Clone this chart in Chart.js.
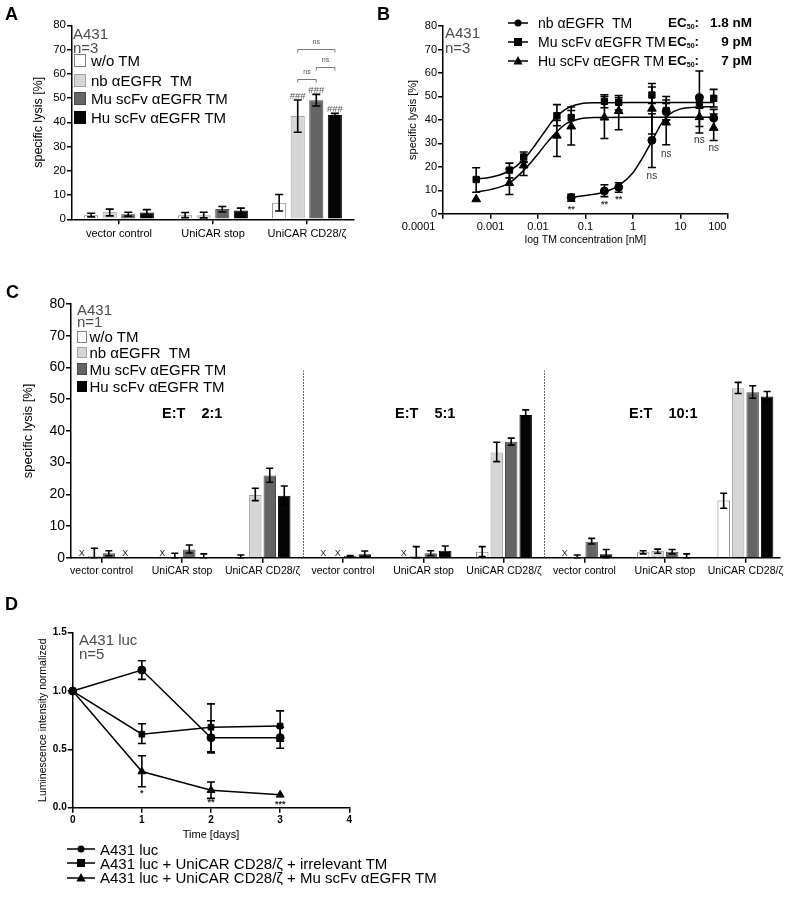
<!DOCTYPE html>
<html>
<head>
<meta charset="utf-8">
<script src="https://cdn.jsdelivr.net/npm/chart.js@4.4.1/dist/chart.umd.min.js"></script>
<style>
body { margin: 0; background: #fff; font-family: "Liberation Sans", Arial, sans-serif; }
#page { position: relative; width: 786px; height: 899px; overflow: hidden; background: #fff; }
canvas { position: absolute; }
.t { position: absolute; line-height: 1; white-space: pre; color: #000; }
.lab { font-size: 18px; font-weight: bold; }
.grey { color: #4d4d4d; font-size: 15px; }
.et { font-size: 14.5px; font-weight: bold; }
.sw { position: absolute; box-sizing: border-box; border: 1px solid; }
sub { font-size: 7px; vertical-align: baseline; position: relative; top: 2px; }
svg { position: absolute; overflow: visible; }
</style>
</head>
<body>
<div id="page">
  <canvas id="cA" width="375" height="250" style="left:0;top:0"></canvas>
  <canvas id="cB" width="411" height="255" style="left:375px;top:0"></canvas>
  <canvas id="cC" width="786" height="320" style="left:0;top:270px"></canvas>
  <canvas id="cD" width="400" height="255" style="left:0;top:590px"></canvas>

  <div class="t lab" style="left:5px;top:4.5px">A</div>
  <div class="t grey" style="left:73px;top:25.5px">A431</div>
  <div class="t grey" style="left:73px;top:39.5px">n=3</div>

  <div class="t lab" style="left:377px;top:4.5px">B</div>
  <div class="t grey" style="left:445px;top:24.5px">A431</div>
  <div class="t grey" style="left:445px;top:40px">n=3</div>

  <div class="t lab" style="left:6px;top:283px">C</div>
  <div class="t grey" style="left:77px;top:302px">A431</div>
  <div class="t grey" style="left:77px;top:314px">n=1</div>
  <div class="t et" style="left:162px;top:405.5px">E:T    2:1</div>
  <div class="t et" style="left:395px;top:405.5px">E:T    5:1</div>
  <div class="t et" style="left:629px;top:405.5px">E:T    10:1</div>

  <div class="t lab" style="left:5px;top:595px">D</div>
  <div class="t grey" style="left:79px;top:631.5px">A431 luc</div>
  <div class="t grey" style="left:79px;top:645.5px">n=5</div>
</div>

<script>
// series names shared by A and C
const seriesNames = ['w/o TM', 'nb αEGFR  TM', 'Mu scFv αEGFR TM', 'Hu scFv αEGFR TM'];

// ---- panel A
const aCats = ['vector control', 'UniCAR stop', 'UniCAR CD28/ζ'];
const aWo = [1.7, 1.7, 6.8];
const aNb = [3.1, 1.7, 42.6];
const aMu = [2.1, 4.2, 49.1];
const aHu = [2.8, 3.6, 43.0];
const aLo = [[1.0, 0.7, 3.4], [1.4, 0.6, 35.9], [1.3, 3.0, 46.7], [2.0, 2.8, 42.6]];
const aHi = [[2.5, 2.8, 10.2], [4.2, 2.9, 49.2], [2.9, 5.3, 51.5], [4.0, 4.6, 43.7]];
const aHashY = [null, 50.6, 53.3, 45.5];            // "###" over CD28/ζ group
const aBrackets = [[1, 3, 70.1], [2, 3, 62.9], [1, 2, 57.9]]; // ns comparisons

// ---- panel B
const bTickVals = [0.0001, 0.001, 0.01, 0.1, 1, 10, 100];
const bTickLabels = ['0.0001', '0.001', '0.01', '0.1', '1', '10', '100'];
const bX = [0.0005, 0.0025, 0.005, 0.025, 0.05, 0.25, 0.5, 2.5, 5, 25, 50];
const bMu = [14.6, 18.6, 24.2, 41.8, 41.0, 47.9, 47.5, 50.6, 44.0, 47.5, 49.2];
const bMuLo = [9.2, 15.3, 21.9, 37.5, 36.5, 45.2, 44.2, 47.0, 40.0, 45.0, 45.5];
const bMuHi = [19.6, 21.6, 26.3, 46.5, 45.5, 50.7, 50.4, 54.0, 50.0, 50.0, 53.0];
const bHu = [6.2, 13.1, 20.6, 33.3, 37.2, 41.0, 43.8, 44.8, 38.9, 41.2, 36.6];
const bHuLo = [null, 8.2, 16.3, 24.4, 29.3, 32.1, 35.8, 34.0, 29.4, 34.4, 31.2];
const bHuHi = [null, 19.2, 22.3, 39.8, 44.0, 50.0, 49.5, 55.5, 48.5, 45.5, 42.5];
const bNbX = [0.05, 0.25, 0.5, 2.5, 5, 25, 50];
const bNb = [6.9, 9.7, 11.3, 31.3, 43.5, 49.5, 40.8];
const bNbLo = [5.4, 7.3, 9.2, 19.7, 40.0, 37.2, 36.0];
const bNbHi = [8.3, 12.4, 13.2, 42.6, 47.0, 60.8, 44.5];
// fitted curves
const muFitX = [0.0005, 0.001, 0.002, 0.0035, 0.005, 0.0075, 0.01, 0.015, 0.02, 0.03, 0.05, 0.08, 0.15, 1, 50];
const muFitY = [14.8, 15.6, 17.4, 20.3, 23.2, 27.5, 31.0, 36.0, 39.5, 43.0, 45.8, 46.9, 47.3, 47.4, 47.4];
const huFitX = [0.0005, 0.001, 0.0025, 0.005, 0.01, 0.015, 0.025, 0.04, 0.07, 0.15, 1, 50];
const huFitY = [9.3, 10.3, 13.2, 18.5, 25.5, 30.0, 35.0, 38.5, 40.3, 41.0, 41.1, 41.1];
const nbFitX = [0.05, 0.1, 0.25, 0.5, 1, 1.5, 2.5, 4, 6, 10, 20, 50];
const nbFitY = [7.0, 7.8, 9.3, 12.0, 17.5, 23.0, 31.0, 38.5, 42.5, 44.7, 45.4, 45.6];
const bLegend = ['nb αEGFR  TM', 'Mu scFv αEGFR TM', 'Hu scFv αEGFR TM'];
const bEC50 = ['1.8 nM', '9 pM', '7 pM'];
const bStarX = [0.05, 0.25, 0.5, 2.5, 5, 25, 50];
const bStarY = [2.0, 3.8, 5.9, 16.2, 25.5, 31.5, 27.9];
const bStarText = ['**', '**', '**', 'ns', 'ns', 'ns', 'ns'];

// ---- panel C
const cCats = ['vector control', 'UniCAR stop', 'UniCAR CD28/ζ',
               'vector control', 'UniCAR stop', 'UniCAR CD28/ζ',
               'vector control', 'UniCAR stop', 'UniCAR CD28/ζ'];
const cWo = [null, null, 0.2, null, null, 1.9, null, 1.7, 18.0];
const cNb = [0.5, 0.2, 19.8, null, 0.5, 33.2, 0.1, 2.1, 53.4];
const cMu = [1.4, 2.6, 25.9, 0.5, 1.4, 36.6, 5.0, 1.9, 52.2];
const cHu = [null, 0.2, 19.5, 1.1, 2.2, 45.0, 1.1, 0.2, 50.8];
const cLo = [
  [null, null, 0, null, null, 0.4, null, 1.2, 15.6],
  [0, 0, 18.0, null, 0, 30.3, 0, 1.4, 51.8],
  [0.6, 1.5, 23.8, 0.3, 0.7, 35.5, 4.3, 1.2, 50.3],
  [null, 0, 16.6, 0.3, 0.8, 44.0, 0, 0, 49.2]
];
const cHi = [
  [null, null, 0.85, null, null, 3.5, null, 2.2, 20.3],
  [3.0, 1.4, 21.9, null, 3.5, 36.4, 0.85, 2.7, 55.3],
  [2.2, 4.0, 28.2, 0.7, 2.2, 37.7, 6.1, 2.6, 54.2],
  [null, 1.2, 22.6, 2.1, 3.7, 46.6, 2.6, 1.2, 52.4]
];
const cSeparators = [3.5, 6.5];

// ---- panel D
const dDays = [0, 1, 2, 3];
const dLuc = [1.0, 1.18, 0.60, 0.60];
const dLucLo = [1.0, 1.10, 0.47, 0.51];
const dLucHi = [1.0, 1.26, 0.745, 0.69];
const dIrr = [1.0, 0.63, 0.69, 0.70];
const dIrrLo = [1.0, 0.55, 0.48, 0.57];
const dIrrHi = [1.0, 0.72, 0.89, 0.83];
const dMu = [1.0, 0.31, 0.15, 0.11];
const dMuLo = [1.0, 0.18, 0.08, 0.11];
const dMuHi = [1.0, 0.445, 0.22, 0.11];
const dStarY = [null, 0.12, 0.045, 0.03];
const dStarText = ['', '*', '**', '***'];
const dLegend = ['A431 luc', 'A431 luc + UniCAR CD28/ζ + irrelevant TM', 'A431 luc + UniCAR CD28/ζ + Mu scFv αEGFR TM'];

// styles
const FONT = '"Liberation Sans", Arial, sans-serif';
const fills = ['#ffffff', '#d6d6d6', '#646464', '#050505'];
const borders = ['#808080', '#a3a3a3', '#4a4a4a', '#000000'];
const bLabelShift = [16, 0, 0, 0, 0, 0, 7]; // end labels sit left of their tick in the original

Chart.defaults.font.family = FONT;
Chart.defaults.color = '#000';
Chart.defaults.animation = false;
Chart.defaults.plugins.legend.display = false;
Chart.defaults.plugins.tooltip.enabled = false;

// error bars, drawn from the datasets' errLo / errHi values
const errorBars = {
  id: 'errorBars',
  beforeDatasetsDraw(chart, args, opts) { if (opts.under) drawErr(chart, opts); },
  afterDatasetsDraw(chart, args, opts) { if (!opts.under) drawErr(chart, opts); }
};
function drawErr(chart, opts) {
  const ctx = chart.ctx, y = chart.scales.y;
  ctx.save();
  ctx.strokeStyle = '#000';
  ctx.lineWidth = opts.width || 1.6;
  chart.data.datasets.forEach((ds, i) => {
    if (!ds.errLo) return;
    chart.getDatasetMeta(i).data.forEach((el, j) => {
      const lo = ds.errLo[j], hi = ds.errHi[j];
      if (lo == null || hi == null || lo === hi) return;
      const x = el.x, y1 = y.getPixelForValue(lo), y2 = y.getPixelForValue(hi), c = opts.cap;
      ctx.beginPath();
      ctx.moveTo(x, y1); ctx.lineTo(x, y2);
      ctx.moveTo(x - c, y1); ctx.lineTo(x + c, y1);
      ctx.moveTo(x - c, y2); ctx.lineTo(x + c, y2);
      ctx.stroke();
    });
  });
  ctx.restore();
}

function yAxis(min, max, step, width, title, titleSize, titlePad, tickSize, extra) {
  return Object.assign({
    min: min, max: max,
    grid: { drawOnChartArea: false, tickLength: 5, color: '#000', lineWidth: 1.5 },
    border: { color: '#000', width: 1.5 },
    ticks: { stepSize: step, padding: 1, font: { size: tickSize }, color: '#000' },
    title: { display: true, text: title, font: { size: titleSize }, color: '#000', padding: { top: titlePad, bottom: 0 } },
    afterFit: s => { s.width = width; }
  }, extra || {});
}

// ---------------- A
const aData = [aWo, aNb, aMu, aHu];
const aNotes = {
  id: 'aNotes',
  afterDatasetsDraw(chart) {
    const ctx = chart.ctx, y = chart.scales.y;
    ctx.save();
    ctx.fillStyle = '#555'; ctx.strokeStyle = '#777'; ctx.lineWidth = 1;
    ctx.textAlign = 'center'; ctx.textBaseline = 'middle';
    ctx.font = '9.5px ' + FONT;
    aHashY.forEach((v, i) => {
      if (v == null) return;
      ctx.fillText('###', chart.getDatasetMeta(i).data[2].x, y.getPixelForValue(v));
    });
    ctx.font = '7px ' + FONT;
    aBrackets.forEach(b => {
      const x1 = chart.getDatasetMeta(b[0]).data[2].x, x2 = chart.getDatasetMeta(b[1]).data[2].x;
      const py = Math.round(y.getPixelForValue(b[2])) + 0.5;
      ctx.beginPath();
      ctx.moveTo(x1, py + 3); ctx.lineTo(x1, py); ctx.lineTo(x2, py); ctx.lineTo(x2, py + 3);
      ctx.stroke();
      ctx.fillText('ns', (x1 + x2) / 2, py - 7);
    });
    ctx.restore();
  }
};
new Chart(document.getElementById('cA'), {
  type: 'bar',
  data: {
    labels: aCats,
    datasets: aData.map((d, i) => ({
      label: seriesNames[i], data: d, errLo: aLo[i], errHi: aHi[i],
      backgroundColor: fills[i], borderColor: borders[i], borderWidth: 1,
      categoryPercentage: 0.79, barPercentage: 0.76
    }))
  },
  options: {
    responsive: false,
    layout: { padding: { top: 25.3, right: 21, left: 0, bottom: 0 } },
    plugins: { errorBars: { cap: 4 } },
    scales: {
      x: {
        offset: true,
        grid: { offset: false, drawOnChartArea: false, tickLength: 5, color: '#000', lineWidth: 1.5 },
        border: { color: '#000', width: 1.5 },
        ticks: { font: { size: 11 }, color: '#000', padding: 3, maxRotation: 0, autoSkip: false },
        afterFit: s => { s.height = 30.7; }
      },
      y: yAxis(0, 80, 10, 72, 'specific lysis [%]', 12.5, 31.5, 11.5)
    }
  },
  plugins: [errorBars, aNotes]
});

// ---------------- B
const bNotes = {
  id: 'bNotes',
  afterDatasetsDraw(chart) {
    const ctx = chart.ctx, x = chart.scales.x, y = chart.scales.y;
    ctx.save();
    ctx.fillStyle = '#333'; ctx.textAlign = 'center'; ctx.textBaseline = 'middle';
    bStarX.forEach((v, i) => {
      ctx.font = (bStarText[i] === 'ns' ? '10px ' : 'bold 9px ') + FONT;
      ctx.fillText(bStarText[i], x.getPixelForValue(v), y.getPixelForValue(bStarY[i]));
    });
    ctx.restore();
  }
};
const pts = (xs, ys) => xs.map((v, i) => ({ x: v, y: ys[i] }));
const bPointStyle = { showLine: false, backgroundColor: '#000', borderColor: '#000', borderWidth: 1, clip: false };
const bCurveStyle = { showLine: true, pointRadius: 0, borderColor: '#000', borderWidth: 1.5, cubicInterpolationMode: 'monotone', fill: false };
new Chart(document.getElementById('cB'), {
  type: 'scatter',
  data: {
    datasets: [
      Object.assign({ label: bLegend[0], data: pts(bNbX, bNb), errLo: bNbLo, errHi: bNbHi, pointStyle: 'circle', pointRadius: 4 }, bPointStyle),
      Object.assign({ label: bLegend[1], data: pts(bX, bMu), errLo: bMuLo, errHi: bMuHi, pointStyle: 'rect', pointRadius: 4.5 }, bPointStyle),
      Object.assign({ label: bLegend[2], data: pts(bX, bHu), errLo: bHuLo, errHi: bHuHi, pointStyle: 'triangle', pointRadius: 5 }, bPointStyle),
      Object.assign({ data: pts(nbFitX, nbFitY) }, bCurveStyle),
      Object.assign({ data: pts(muFitX, muFitY) }, bCurveStyle),
      Object.assign({ data: pts(huFitX, huFitY) }, bCurveStyle)
    ]
  },
  options: {
    responsive: false,
    layout: { padding: { top: 26, right: 58, left: 0, bottom: 0 } },
    plugins: { errorBars: { cap: 4, under: true } },
    scales: {
      x: {
        type: 'logarithmic', min: 0.0001, max: 100,
        grid: { drawOnChartArea: false, tickLength: 5, color: '#000', lineWidth: 1.5 },
        border: { color: '#000', width: 1.5 },
        afterBuildTicks: s => { s.ticks = bTickVals.map(v => ({ value: v })); },
        ticks: {
          callback: (v, i) => bTickLabels[i] + ' '.repeat(bLabelShift[i]),
          font: { size: 11 }, color: '#000', padding: 2, maxRotation: 0, autoSkip: false
        },
        title: { display: true, text: 'log TM concentration [nM]', font: { size: 10.5 }, color: '#000', padding: { top: 0, bottom: 8.7 } },
        afterFit: s => { s.height = 41.2; }
      },
      y: yAxis(0, 80, 10, 68, 'specific lysis [%]', 11, 31.5, 11)
    }
  },
  plugins: [errorBars, bNotes]
});

// ---------------- C
const cData = [cWo, cNb, cMu, cHu];
const cXpos = cCats.map((c, i) => i + 1);
const cNotes = {
  id: 'cNotes',
  afterDatasetsDraw(chart) {
    const ctx = chart.ctx, x = chart.scales.x, y = chart.scales.y;
    ctx.save();
    ctx.strokeStyle = '#333'; ctx.lineWidth = 1; ctx.setLineDash([1.5, 1.5]);
    cSeparators.forEach(v => {
      const px = Math.round(x.getPixelForValue(v)) + 0.5;
      ctx.beginPath();
      ctx.moveTo(px, y.getPixelForValue(0)); ctx.lineTo(px, y.getPixelForValue(59));
      ctx.stroke();
    });
    ctx.setLineDash([]);
    ctx.font = '9px ' + FONT; ctx.fillStyle = '#222';
    ctx.textAlign = 'center'; ctx.textBaseline = 'middle';
    chart.data.datasets.forEach((ds, i) => {
      const meta = chart.getDatasetMeta(i);
      ds.data.forEach((d, j) => {
        if (d.y == null) ctx.fillText('X', meta.data[j].x + 2, y.getPixelForValue(0) - 4.5);
      });
    });
    ctx.restore();
  }
};
new Chart(document.getElementById('cC'), {
  type: 'bar',
  data: {
    datasets: cData.map((d, i) => ({
      label: seriesNames[i], data: d.map((v, j) => ({ x: cXpos[j], y: v })),
      errLo: cLo[i], errHi: cHi[i],
      backgroundColor: fills[i], borderColor: borders[i], borderWidth: 1,
      categoryPercentage: 0.72, barPercentage: 0.86
    }))
  },
  options: {
    responsive: false,
    layout: { padding: { top: 34, right: 6, left: 0, bottom: 0 } },
    plugins: { errorBars: { cap: 3.5 } },
    scales: {
      x: {
        type: 'linear', min: 0.62, max: 9.43, offset: false,
        grid: { offset: false, drawOnChartArea: false, tickLength: 5, color: '#000', lineWidth: 1.5 },
        border: { color: '#000', width: 1.5 },
        afterBuildTicks: s => { s.ticks = cXpos.map(v => ({ value: v })); },
        ticks: { callback: (v, i) => cCats[i], font: { size: 10.5 }, color: '#000', padding: 2, maxRotation: 0, autoSkip: false },
        afterFit: s => { s.height = 32.3; }
      },
      y: yAxis(0, 80, 10, 71, 'specific lysis [%]', 13, 20.2, 14)
    }
  },
  plugins: [errorBars, cNotes]
});

// ---------------- D
const dNotes = {
  id: 'dNotes',
  afterDatasetsDraw(chart) {
    const ctx = chart.ctx, x = chart.scales.x, y = chart.scales.y;
    ctx.save();
    ctx.font = 'bold 9px ' + FONT; ctx.fillStyle = '#222';
    ctx.textAlign = 'center'; ctx.textBaseline = 'middle';
    dDays.forEach((d, i) => {
      if (dStarY[i] == null) return;
      ctx.fillText(dStarText[i], x.getPixelForValue(d), y.getPixelForValue(dStarY[i]));
    });
    ctx.restore();
  }
};
const dStyle = { showLine: true, borderColor: '#000', backgroundColor: '#000', borderWidth: 1.5, pointBorderWidth: 1, clip: false };
new Chart(document.getElementById('cD'), {
  type: 'scatter',
  data: {
    datasets: [
      Object.assign({ label: dLegend[0], data: pts(dDays, dLuc), errLo: dLucLo, errHi: dLucHi, pointStyle: 'circle', pointRadius: 4 }, dStyle),
      Object.assign({ label: dLegend[1], data: pts(dDays, dIrr), errLo: dIrrLo, errHi: dIrrHi, pointStyle: 'rect', pointRadius: 4 }, dStyle),
      Object.assign({ label: dLegend[2], data: pts(dDays, dMu), errLo: dMuLo, errHi: dMuHi, pointStyle: 'triangle', pointRadius: 4.5 }, dStyle)
    ]
  },
  options: {
    responsive: false,
    layout: { padding: { top: 42.7, right: 50.7, left: 0, bottom: 0 } },
    plugins: { errorBars: { cap: 4, under: true } },
    scales: {
      x: {
        type: 'linear', min: 0, max: 4,
        grid: { drawOnChartArea: false, tickLength: 5, color: '#000', lineWidth: 1.5 },
        border: { color: '#000', width: 1.5 },
        ticks: { stepSize: 1, font: { size: 10, weight: 'bold' }, color: '#000', padding: 2 },
        title: { display: true, text: 'Time [days]', font: { size: 11 }, color: '#000', padding: { top: 0, bottom: 3.4 } },
        afterFit: s => { s.height = 37.3; }
      },
      y: yAxis(0, 1.5, 0.5, 72.7, 'Luminescence intensity normalized', 10.5, 36.7, 10, {
        ticks: { stepSize: 0.5, padding: 1, font: { size: 10, weight: 'bold' }, color: '#000', callback: v => v.toFixed(1) }
      })
    }
  },
  plugins: [errorBars, dNotes]
});

// ---------------- DOM legends
const page = document.getElementById('page');
function addDiv(cls, style, html) {
  const d = document.createElement('div');
  d.className = cls; d.setAttribute('style', style); d.innerHTML = html;
  page.appendChild(d);
  return d;
}
function boxLegend(left, rows, boxW, boxH, textLeft, size) {
  rows.forEach((yc, i) => {
    addDiv('sw', `left:${left}px;top:${yc - boxH / 2}px;width:${boxW}px;height:${boxH}px;background:${fills[i]};border-color:${borders[i]}`, '');
    addDiv('t', `left:${textLeft}px;top:${yc - size / 2}px;font-size:${size}px`, '').textContent = seriesNames[i];
  });
}
boxLegend(74, [60.5, 80, 98.5, 117], 12, 13, 91, 15);
boxLegend(77, [336.8, 352.5, 369.2, 386.5], 10, 11.7, 89.5, 15);

const markers = [
  '<circle cx="0" cy="0" r="3.5" fill="#000"/>',
  '<rect x="-4" y="-4" width="8" height="8" fill="#000"/>',
  '<polygon points="0,-5 4.6,3.5 -4.6,3.5" fill="#000"/>'
];
function symbol(left, yc, width) {
  return (k) => `<svg width="${width}" height="1" style="left:${left}px;top:${yc}px">` +
    `<line x1="0" y1="0" x2="${width}" y2="0" stroke="#000" stroke-width="1.5"/>` +
    `<g transform="translate(${width / 2},0)">${markers[k]}</g></svg>`;
}
[22.5, 42, 61].forEach((yc, k) => {
  page.insertAdjacentHTML('beforeend', symbol(508, yc, 20)(k));
  addDiv('t', `left:538px;top:${yc - 7}px;font-size:14px`, '').textContent = bLegend[k];
  addDiv('t', `left:668px;top:${yc - 7}px;font-size:13.5px;font-weight:bold`, 'EC<sub>50</sub>:');
  addDiv('t', `right:34px;top:${yc - 7}px;font-size:13.5px;font-weight:bold`, '').textContent = bEC50[k];
});
[849, 863.3, 877.5].forEach((yc, k) => {
  page.insertAdjacentHTML('beforeend', symbol(67, yc, 28)(k));
  addDiv('t', `left:100px;top:${yc - 7.5}px;font-size:15px`, '').textContent = dLegend[k];
});
</script>
</body>
</html>
